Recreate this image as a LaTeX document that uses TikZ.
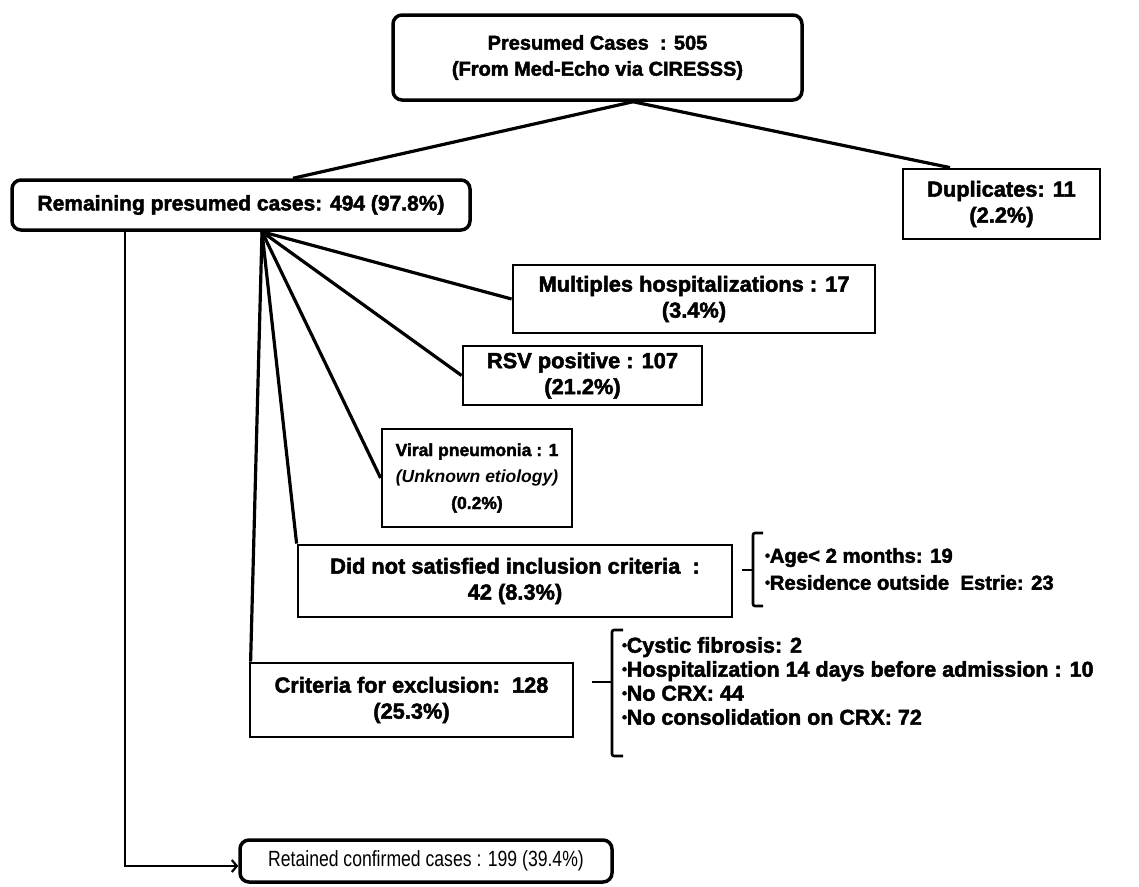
\documentclass[tikz,border=0pt]{standalone}
\usepackage{fontspec}
\setmainfont{Liberation Sans}
\newfontfamily\hv{Liberation Sans}[FakeStretch=1.0, BoldFeatures={FakeBold=2.2}]
\newfontfamily\hvn{Liberation Sans}[FakeStretch=0.8]
\usetikzlibrary{arrows.meta}
\newcommand{\bul}{\raisebox{0.45ex}{\tikz\fill (0,0) circle (2.3pt);}}
\begin{document}
\begin{tikzpicture}[x=1pt,y=-1pt,
  every node/.style={font=\hv\bfseries\fontsize{21.8}{26}\selectfont, align=center, inner sep=0pt},
  rbox/.style={draw, rounded corners=9pt, line width=3.5pt},
  sbox/.style={draw, line width=2.8pt},
  conn/.style={line width=3.2pt},
  thin conn/.style={line width=2.2pt},
  bracket/.style={line width=2.6pt, rounded corners=2pt}]
\useasboundingbox (0,0) rectangle (1139,886);

\node[rbox, minimum width=409pt, minimum height=85pt, font=\hv\bfseries\fontsize{20}{26}\selectfont] (top) at (597.5,57.5) {Presumed Cases\ \ : 505\\(From Med-Echo via CIRESSS)};
\node[rbox, minimum width=458pt, minimum height=50pt, font=\hv\bfseries\fontsize{21}{24}\selectfont] (rem) at (241,205) {Remaining presumed cases: 494 (97.8\%)};
\node[sbox, minimum width=197pt, minimum height=70pt] (dup) at (1001.5,204) {Duplicates: 11\\(2.2\%)};
\node[sbox, minimum width=362pt, minimum height=68pt] (mult) at (694,299) {Multiples hospitalizations : 17\\(3.4\%)};
\node[sbox, minimum width=239pt, minimum height=59pt] (rsv) at (582.5,375.5) {RSV positive : 107\\(21.2\%)};
\node[sbox, minimum width=190pt, minimum height=98pt, font=\hv\bfseries\fontsize{17.5}{26.5}\selectfont] (vir) at (477,478) {Viral pneumonia : 1\\{\itshape (Unknown etiology)}\\(0.2\%)};
\node[sbox, minimum width=434pt, minimum height=72pt] (dns) at (515,581) {Did not satisfied inclusion criteria\ \ :\\42 (8.3\%)};
\node[sbox, minimum width=323pt, minimum height=74pt] (crit) at (411.5,700) {Criteria for exclusion:\ \ 128\\(25.3\%)};
\node[rbox, minimum width=372pt, minimum height=42pt, font=\hvn\fontsize{22}{22}\selectfont] (ret) at (426,861) {Retained confirmed cases : 199 (39.4\%)};

\node[anchor=west, align=left, font=\hv\bfseries\fontsize{20.3}{27}\selectfont] (l1) at (765,569) {\bul Age< 2 months: 19\\\bul Residence outside\ \ Estrie: 23};
\node[anchor=west, align=left, font=\hv\bfseries\fontsize{21.5}{24}\selectfont] (l2) at (622,681) {\bul Cystic fibrosis: 2\\\bul Hospitalization 14 days before admission : 10\\\bul No CRX: 44\\\bul No consolidation on CRX: 72};

\draw[bracket] (763,533) -- (753,533) -- (753,606) -- (763,606);
\draw[bracket] (742,570) -- (753,570);
\draw[bracket] (623,630) -- (612,630) -- (612,756) -- (623,756);
\draw[bracket] (592,682) -- (612,682);

\coordinate (ap) at ([xshift=35.5pt]top.south);
\draw[conn] (ap) -- ([xshift=52pt]rem.north);
\draw[conn] (ap) -- ([xshift=-51.5pt]dup.north);

\coordinate (fo) at ([xshift=21pt]rem.south);
\draw[conn] (fo) -- (mult.west);
\draw[conn] (fo) -- (rsv.west);
\draw[conn] (fo) -- (vir.west);
\draw[conn] (fo) -- (dns.north west);
\draw[conn] (fo) -- ([xshift=2pt]crit.north west);

\draw[thin conn, -{Straight Barb[length=5pt,width=12pt]}] ([xshift=-116pt]rem.south) |- ([yshift=-5pt]ret.west);
\end{tikzpicture}
\end{document}
